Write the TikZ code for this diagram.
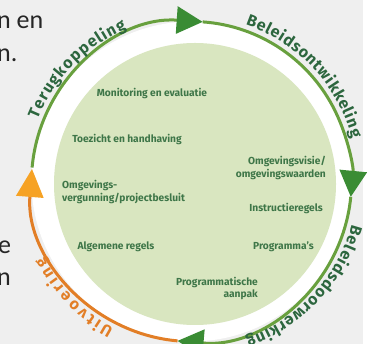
\documentclass[tikz,border=0pt]{standalone}
\usepackage{fontspec}
\setmainfont{Fira Sans}
\newfontfamily\slidefont{Carlito}
\usepackage{tikz}
\usetikzlibrary{arrows.meta,decorations.text}
\definecolor{bggray}{RGB}{239,239,239}
\definecolor{discgreen}{RGB}{217,230,192}
\definecolor{labelgreen}{RGB}{62,118,72}
\definecolor{ringgreen}{RGB}{104,160,62}
\definecolor{tipgreen}{RGB}{58,140,52}
\definecolor{ringorange}{RGB}{226,126,38}
\definecolor{tiporange}{RGB}{246,162,36}
\definecolor{ringtext}{RGB}{44,102,62}
\newcommand\ringfont{\bfseries\fontsize{16}{16}\selectfont}

\begin{document}
\begin{tikzpicture}[
    x=1pt, y=1pt,
    item/.style={font=\bfseries\fontsize{10.2}{12.5}\selectfont, text=labelgreen, inner sep=0pt},
    slide/.style={font=\slidefont\fontsize{26}{30}\selectfont, text=black!85, inner sep=0pt, anchor=base west},
    ring/.style={line width=3pt},
    greentip/.style={-{Triangle[width=27pt,length=26pt,color=tipgreen]}},
    orangetip/.style={-{Triangle[width=27pt,length=28pt,color=tiporange]}},
    ringlabel/.style={decorate, font=\ringfont, decoration={text along path, text align={fit to path}, text color=#1}}
]
    \useasboundingbox (0,0) rectangle (382,344);
    \clip (0,0) rectangle (382,344);
    \fill[bggray] (0,0) rectangle (363,344);
    \fill[white] (363,0) rectangle (382,344);

    % cycle
    \coordinate (ctr) at (191.5,162.5);
    \fill[white] (ctr) circle[radius=160];
    \fill[discgreen] (195,160) circle[radius=141];

    \draw[ring, ringgreen, greentip] ([shift={(175:160)}]ctr) arc[start angle=175, end angle=86, radius=160];
    \draw[ring, ringgreen, greentip] ([shift={(86:160)}]ctr) arc[start angle=86, end angle=-5.5, radius=160];
    \draw[ring, ringgreen, greentip] ([shift={(-5.5:160)}]ctr) arc[start angle=-5.5, end angle=-95, radius=160];
    \draw[ring, ringorange, orangetip] ([shift={(265:160)}]ctr) arc[start angle=265, end angle=175.5, radius=160];

    \path[ringlabel=ringtext, decoration={text={|\ringfont|Terugkoppeling}}]
        ([shift={(158:166)}]ctr) arc[start angle=158, end angle=113, radius=166];
    \path[ringlabel=ringtext, decoration={text={|\ringfont|Beleidsontwikkeling}}]
        ([shift={(71:166)}]ctr) arc[start angle=71, end angle=15, radius=166];
    \path[ringlabel=ringtext, decoration={text={|\ringfont|Beleidsdoorwerking}}]
        ([shift={(-15:166)}]ctr) arc[start angle=-15, end angle=-71, radius=166];
    \path[ringlabel=ringorange, decoration={text={|\ringfont|Uitvoering}}]
        ([shift={(242:166)}]ctr) arc[start angle=242, end angle=207, radius=166];

    % instruments
    \node[item] (monitoring) at (152,250) {Monitoring en evaluatie};
    \node[item] (toezicht) at (127,204) {Toezicht en handhaving};
    \node[item, anchor=east, align=right] (visie) at (326,176) {Omgevingsvisie/\\omgevingswaarden};
    \node[item, anchor=west, align=left] (vergunning) at (62,152) {Omgevings-\\vergunning/projectbesluit};
    \node[item, anchor=east] (instructie) at (323,135) {Instructieregels};
    \node[item] (algemeen) at (116,97) {Algemene regels};
    \node[item, anchor=east] (programmas) at (314,97) {Programma's};
    \node[item, anchor=east, align=right] (aanpak) at (258,55.5) {Programmatische\\aanpak};

    % slide text cut off at the left
    \node[slide] (frag1) at (-3,315) {n en};
    \node[slide] (frag2) at (-3,282) {n.};
    \node[slide] (frag3) at (-2,90) {e};
    \node[slide] (frag4) at (-3,58) {n};
\end{tikzpicture}
\end{document}
